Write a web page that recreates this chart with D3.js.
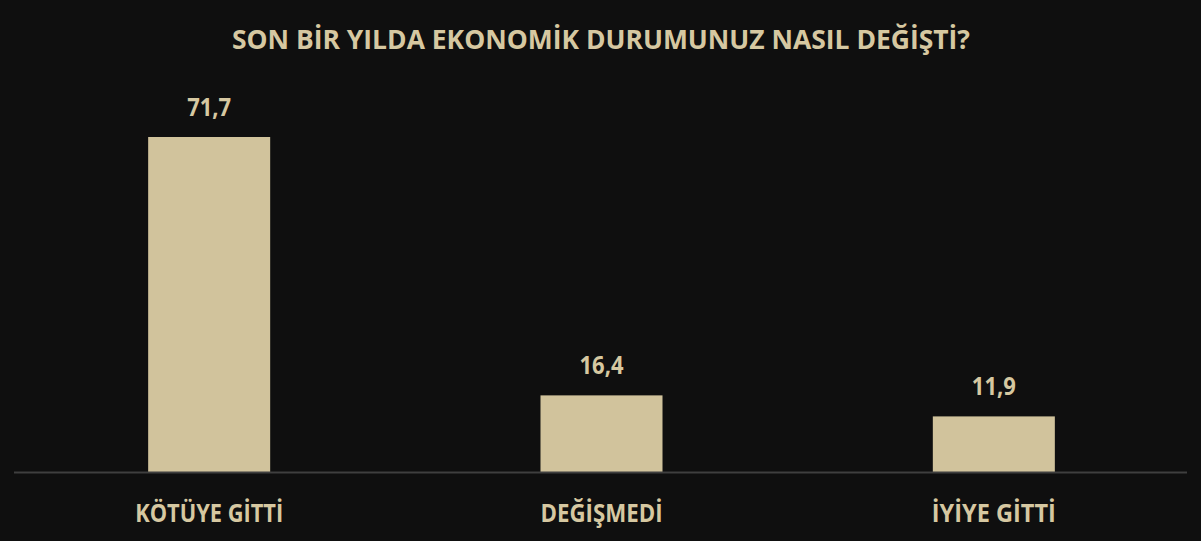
<!DOCTYPE html>
<html><head><meta charset="utf-8">
<script src="https://cdn.jsdelivr.net/npm/d3@7"></script>
<style>html,body{margin:0;padding:0;background:#0f0f0f;}svg{display:block;}</style>
</head><body>
<script>
const categories = ["KÖTÜYE GİTTİ", "DEĞİŞMEDİ", "İYİYE GİTTİ"];
const values = [71.7, 16.4, 11.9];
const valueLabels = ["71,7", "16,4", "11,9"];
const title = "SON BİR YILDA EKONOMİK DURUMUNUZ NASIL DEĞİŞTİ?";

const W = 1201, H = 541;
const beige = "#d1c39c";
const textCol = "#d6c8a1";
const font = "'Open Sans', 'Noto Sans', sans-serif";

const svg = d3.select("body").append("svg").attr("width", W).attr("height", H);
svg.append("rect").attr("width", W).attr("height", H).attr("fill", "#0f0f0f");

const x = d3.scaleBand().domain(categories).range([13, 1190]).paddingInner(0.689).paddingOuter(0.3445);
const y = d3.scaleLinear().domain([0, 71.7]).range([472, 137]);

svg.append("text").attr("x", 601).attr("y", 49).attr("text-anchor", "middle")
  .attr("fill", textCol).attr("font-family", font).attr("font-weight", 700)
  .attr("font-size", 26).attr("textLength", 738).attr("lengthAdjust", "spacingAndGlyphs")
  .text(title);

svg.selectAll("rect.bar").data(values).enter().append("rect").attr("class", "bar")
  .attr("x", (d, i) => x(categories[i]))
  .attr("width", x.bandwidth())
  .attr("y", d => y(d))
  .attr("height", d => y(0) - y(d))
  .attr("fill", beige);

svg.append("line").attr("x1", 14).attr("x2", 1187).attr("y1", 472.5).attr("y2", 472.5)
  .attr("stroke", "#3f3f3f").attr("stroke-width", 2);

svg.selectAll("text.val").data(values).enter().append("text").attr("class", "val")
  .attr("x", (d, i) => x(categories[i]) + x.bandwidth() / 2)
  .attr("y", d => y(d) - 21)
  .attr("text-anchor", "middle").attr("fill", textCol)
  .attr("font-family", font).attr("font-weight", 700).attr("font-size", 25)
  .attr("textLength", 44).attr("lengthAdjust", "spacingAndGlyphs")
  .text((d, i) => valueLabels[i]);

const catWidths = [148, 122, 124];
svg.selectAll("text.cat").data(categories).enter().append("text").attr("class", "cat")
  .attr("x", d => x(d) + x.bandwidth() / 2)
  .attr("y", 522)
  .attr("text-anchor", "middle").attr("fill", textCol)
  .attr("font-family", font).attr("font-weight", 700).attr("font-size", 25)
  .attr("textLength", (d, i) => catWidths[i]).attr("lengthAdjust", "spacingAndGlyphs")
  .text(d => d);
</script>
</body></html>
